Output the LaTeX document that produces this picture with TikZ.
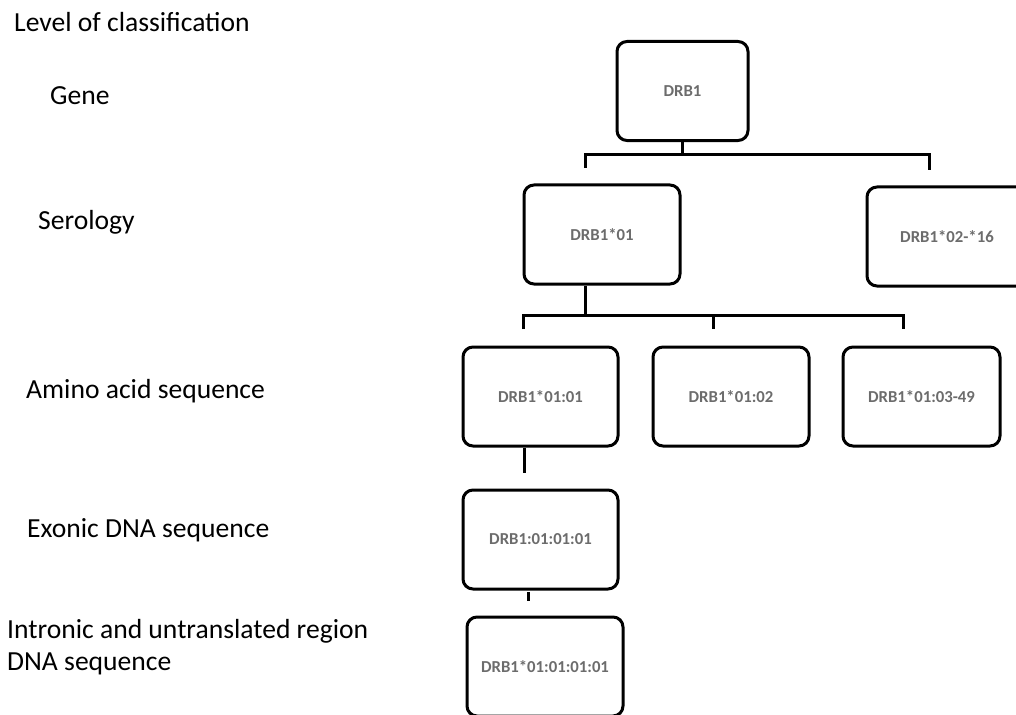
\documentclass[tikz,border=0pt]{standalone}
\usepackage{fontspec}
\setmainfont{Carlito}
\definecolor{boxtext}{RGB}{108,108,108}
\tikzset{
  level/.style={anchor=base west, inner sep=0pt, align=left,
    font=\fontsize{27.7}{32}\selectfont},
  allele/.style={draw=black, line width=3bp, rounded corners=10bp,
    minimum height=99bp, inner sep=0pt, text=boxtext,
    font=\bfseries\fontsize{16.8}{20}\selectfont},
  conn/.style={draw=black, line width=3bp}
}
\begin{document}
\begin{tikzpicture}[x=1bp, y=-1bp]
\useasboundingbox (0,0) rectangle (1016,715);
\clip (0,0) rectangle (1016,715);

% level captions
\node[level] (lvl)   at (14,32)  {Level of classification};
\node[level] (lgene) at (50,105) {Gene};
\node[level] (lser)  at (38,229) {Serology};
\node[level] (laa)   at (26,398) {Amino acid sequence};
\node[level] (lexo)  at (27,537) {Exonic DNA sequence};
\node[level] (lint)  at (7,670)  {Intronic and untranslated region\\DNA sequence};

% allele boxes
\node[allele, minimum width=131bp] (gene) at (682.5,91)  {DRB1};
\node[allele, minimum width=156bp] (ser1) at (602,234.5) {DRB1*01};
\node[allele, minimum width=160bp] (ser2) at (947,236.5) {DRB1*02-*16};
\node[allele, minimum width=155bp] (aa1)  at (540.5,396.5) {DRB1*01:01};
\node[allele, minimum width=156bp] (aa2)  at (731,396.5)   {DRB1*01:02};
\node[allele, minimum width=157bp] (aa3)  at (921.5,396.5) {DRB1*01:03-49};
\node[allele, minimum width=155bp] (exo)  at (540.5,539.5) {DRB1:01:01:01};
\node[allele, minimum width=156bp] (intr) at (545,666.5)   {DRB1*01:01:01:01};

% connector bends and free ends
\coordinate (busA) at (0,155);
\coordinate (a1) at (585,168);
\coordinate (a2) at (929,170);
\coordinate (busB) at (0,315);
\coordinate (sB) at (585,0);
\coordinate (b1) at (523,329);
\coordinate (b2) at (713,329);
\coordinate (b3) at (903,329);
\coordinate (sC) at (524,0);
\coordinate (c1) at (524,473);
\coordinate (sD) at (528,0);
\coordinate (dTop) at (528,592);
\coordinate (d1) at (528,601);

% gene -> serology
\draw[conn] (gene.south) -- (gene.south |- busA);
\draw[conn] (a1) -- (a1 |- busA) -- (a2 |- busA) -- (a2);

% serology -> amino acid
\draw[conn] (ser1.south -| sB) -- (sB |- busB);
\draw[conn] (b1) -- (b1 |- busB) -- (b3 |- busB) -- (b3);
\draw[conn] (b2 |- busB) -- (b2);

% amino acid -> exonic
\draw[conn] (aa1.south -| sC) -- (c1);

% exonic -> intronic
\draw[conn] (dTop) -- (d1);
\end{tikzpicture}
\end{document}
